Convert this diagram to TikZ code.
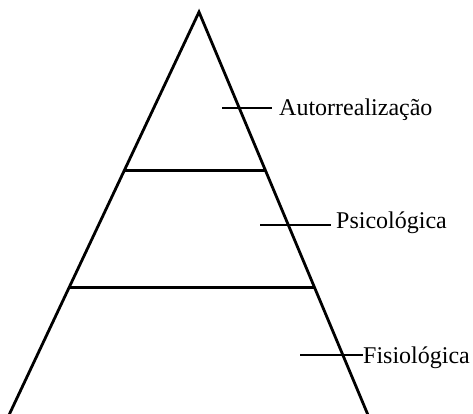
\documentclass[tikz,border=0pt]{standalone}
\usepackage{fontspec}
\setmainfont{Liberation Serif}
\usetikzlibrary{positioning, calc}

\tikzset{
  pyrline/.style={line width=2.8pt, black},
  levellbl/.style={font=\fontsize{24}{28}\selectfont, anchor=base west, inner sep=0pt}
}

\begin{document}
\begin{tikzpicture}[x=1pt, y=-1pt]
  % Canvas
  \useasboundingbox (0,0) rectangle (473,413);
  \clip (0,0) rectangle (473,413);

  % Pyramid outline
  \coordinate (apex) at (199,12);
  \coordinate (baseL) at (9,415);
  \coordinate (baseR) at (368,415);
  \draw[pyrline, line join=miter] (baseL) -- (apex) -- (baseR);

  % Level dividers
  \draw[pyrline] ($(apex)!0.394!(baseL)$) -- ($(apex)!0.394!(baseR)$);
  \draw[pyrline] ($(apex)!0.683!(baseL)$) -- ($(apex)!0.683!(baseR)$);

  % Level labels
  \node[levellbl] (autoLbl) at (279,115) {Autorrealização};
  \node[levellbl] (psicoLbl) at (336,228) {Psicológica};
  \node[levellbl] (fisioLbl) at (363,363) {Fisiológica};

  % Label pointers
  \coordinate (autoTick) at (222,108);
  \coordinate (psicoTick) at (260,225);
  \coordinate (fisioTick) at (300,355);
  \draw[pyrline] (autoTick) -- ([xshift=-7pt]autoLbl.west |- autoTick);
  \draw[pyrline] (psicoTick) -- ([xshift=-5pt]psicoLbl.west |- psicoTick);
  \draw[pyrline] (fisioTick) -- (fisioLbl.west |- fisioTick);
\end{tikzpicture}
\end{document}
